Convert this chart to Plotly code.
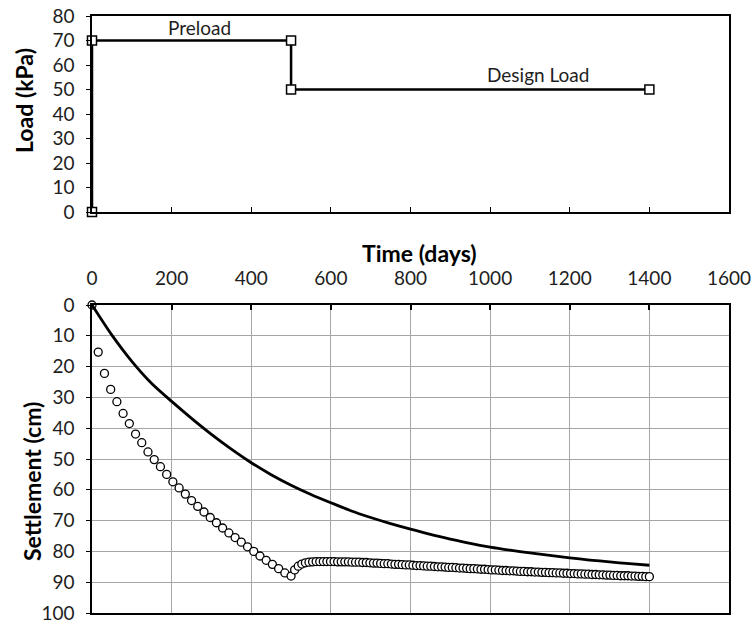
import plotly.graph_objects as go

# ---------------- data ----------------
load_time = [0, 0, 500, 500, 1400]
load_kpa = [0, 70, 70, 50, 50]

meas_time = [0, 15.6, 31.3, 46.9, 62.5, 78.1, 93.8, 109.4, 125, 140.6, 156.3, 171.9, 187.5,
             203.1, 218.8, 234.4, 250, 265.6, 281.3, 296.9, 312.5, 328.1, 343.8, 359.4, 375,
             390.6, 406.3, 421.9, 437.5, 453.1, 468.8, 484.4, 500,
             509, 518, 527, 536, 545, 554, 563, 572, 581, 590, 599, 608, 617, 626, 635, 644,
             653, 662, 671, 680, 689, 698, 707, 716, 725, 734, 743, 752, 761, 770, 779, 788,
             797, 806, 815, 824, 833, 842, 851, 860, 869, 878, 887, 896, 905, 914, 923, 932,
             941, 950, 959, 968, 977, 986, 995, 1004, 1013, 1022, 1031, 1040, 1049, 1058, 1067,
             1076, 1085, 1094, 1103, 1112, 1121, 1130, 1139, 1148, 1157, 1166, 1175, 1184, 1193,
             1202, 1211, 1220, 1229, 1238, 1247, 1256, 1265, 1274, 1283, 1292, 1301, 1310, 1319,
             1328, 1337, 1346, 1355, 1364, 1373, 1382, 1391, 1400]
meas_settle = [0, 15.3, 22.2, 27.4, 31.4, 35.2, 38.5, 41.9, 44.7, 47.7, 50.2, 52.5, 55.0,
               57.4, 59.4, 61.4, 63.5, 65.4, 67.2, 69.0, 70.7, 72.4, 74.0, 75.5, 77.0,
               78.5, 80.0, 81.5, 82.9, 84.2, 85.6, 87.0, 88.0,
               86.0, 84.8, 84.1, 83.7, 83.5, 83.4, 83.3, 83.3, 83.3, 83.3, 83.3, 83.3, 83.4, 83.4, 83.4, 83.4,
               83.5, 83.5, 83.5, 83.6, 83.6, 83.7, 83.8, 83.8, 83.9, 84.0, 84.0, 84.1, 84.2, 84.2, 84.3, 84.4,
               84.4, 84.5, 84.6, 84.6, 84.7, 84.8, 84.8, 84.9, 85.0, 85.0, 85.1, 85.2, 85.2, 85.3, 85.4, 85.4,
               85.5, 85.6, 85.6, 85.7, 85.8, 85.8, 85.9, 86.0, 86.0, 86.1, 86.2, 86.2, 86.3, 86.3, 86.4,
               86.5, 86.5, 86.6, 86.6, 86.7, 86.7, 86.8, 86.8, 86.9, 86.9, 87.0, 87.0, 87.1, 87.1,
               87.2, 87.2, 87.3, 87.3, 87.4, 87.4, 87.5, 87.5, 87.6, 87.6, 87.7, 87.7, 87.8, 87.8,
               87.9, 87.9, 87.9, 88.0, 88.0, 88.1, 88.1, 88.2, 88.2]

pred_time = [0, 50, 100, 150, 200, 250, 300, 350, 400, 450, 500, 550, 600, 650, 700, 750,
             800, 850, 900, 950, 1000, 1050, 1100, 1150, 1200, 1250, 1300, 1350, 1400]
pred_settle = [0, 9.8, 18.3, 25.5, 31.3, 36.8, 42.0, 46.8, 51.2, 55.1, 58.5, 61.5, 64.2,
               66.8, 69.0, 71.0, 72.8, 74.5, 76.0, 77.4, 78.6, 79.6, 80.5, 81.3, 82.1, 82.8,
               83.4, 84.0, 84.5]

x_ticks = [0, 200, 400, 600, 800, 1000, 1200, 1400, 1600]
load_ticks = [0, 10, 20, 30, 40, 50, 60, 70, 80]
settle_ticks = [0, 10, 20, 30, 40, 50, 60, 70, 80, 90, 100]

# ---------------- figure ----------------
W, H = 752, 624
FONT = "Lato"
TXT = "#1e1e1e"
TICKSIZE = 19
TITLESIZE = 23

def px_x(p):
    return p / W

def px_y(p):
    return 1 - p / H

fig = go.Figure()

fig.add_trace(go.Scatter(
    x=load_time, y=load_kpa, mode="lines+markers", xaxis="x", yaxis="y",
    line=dict(color="black", width=2.5),
    marker=dict(symbol="square", size=9, color="white", line=dict(color="black", width=1.5)),
    showlegend=False, cliponaxis=False))

fig.add_trace(go.Scatter(
    x=meas_time, y=meas_settle, mode="markers", xaxis="x2", yaxis="y2",
    marker=dict(symbol="circle", size=8, color="white", line=dict(color="black", width=1.3)),
    showlegend=False, cliponaxis=False))

fig.add_trace(go.Scatter(
    x=pred_time, y=pred_settle, mode="lines", xaxis="x2", yaxis="y2",
    line=dict(color="black", width=2.8, shape="spline", smoothing=0.8),
    showlegend=False))

xdom = [px_x(92), px_x(729)]

fig.update_layout(
    width=W, height=H,
    margin=dict(l=0, r=0, t=0, b=0, autoexpand=False),
    paper_bgcolor="white", plot_bgcolor="white",
    font=dict(family=FONT, size=TICKSIZE, color=TXT),
    xaxis=dict(domain=xdom, range=[0, 1600], tickvals=x_ticks, showticklabels=False,
               ticks="inside", ticklen=5, tickwidth=1.2, tickcolor="black",
               showline=True, linecolor="black", linewidth=1.5, mirror=True,
               showgrid=False, zeroline=False, anchor="y", automargin=False),
    yaxis=dict(domain=[px_y(212), px_y(16)], range=[0, 80], tickvals=load_ticks,
               ticks="outside", ticklen=4, tickwidth=1.2, tickcolor="black",
               ticklabelstandoff=8, ticklabeloverflow="allow",
               showline=True, linecolor="black", linewidth=1.5, mirror=True,
               showgrid=False, zeroline=False, anchor="x", automargin=False),
    xaxis2=dict(domain=xdom, range=[0, 1600], tickvals=x_ticks, side="top",
                ticks="inside", ticklen=5, tickwidth=1.5, tickcolor="black",
                ticklabelstandoff=11, ticklabeloverflow="allow",
                showline=True, linecolor="black", linewidth=1.5, mirror=True,
                showgrid=True, gridcolor="#a6a6a6", gridwidth=1.3,
                zeroline=False, anchor="y2", automargin=False),
    yaxis2=dict(domain=[px_y(613), px_y(305)], range=[100, 0], tickvals=settle_ticks,
                ticks="outside", ticklen=4, tickwidth=1.2, tickcolor="black",
                ticklabelstandoff=8, ticklabeloverflow="allow",
                showline=True, linecolor="black", linewidth=1.5, mirror=True,
                showgrid=True, gridcolor="#a6a6a6", gridwidth=1.3,
                zeroline=False, anchor="x2", automargin=False),
    annotations=[
        dict(text="Preload", x=271, y=75.2, xref="x", yref="y", showarrow=False,
             font=dict(family=FONT, size=TICKSIZE, color=TXT)),
        dict(text="Design Load", x=1120, y=56.3, xref="x", yref="y", showarrow=False,
             font=dict(family=FONT, size=TICKSIZE, color=TXT)),
        dict(text="<b>Load (kPa)</b>", x=px_x(24), y=px_y(100), xref="paper", yref="paper",
             textangle=-90, showarrow=False, xanchor="center", yanchor="middle",
             font=dict(family=FONT, size=TITLESIZE, color="black")),
        dict(text="<b>Settlement (cm)</b>", x=px_x(32), y=px_y(482), xref="paper", yref="paper",
             textangle=-90, showarrow=False, xanchor="center", yanchor="middle",
             font=dict(family=FONT, size=TITLESIZE, color="black")),
        dict(text="<b>Time (days)</b>", x=px_x(420), y=px_y(253), xref="paper", yref="paper",
             showarrow=False, xanchor="center", yanchor="middle",
             font=dict(family=FONT, size=TITLESIZE, color="black")),
    ],
)

# remove the default page margin so the 752x624 figure fills the window exactly
fig.write_html(
    "out.html",
    config={"displayModeBar": False},
    post_script="document.body.style.margin='0';document.body.style.overflow='hidden';",
)
